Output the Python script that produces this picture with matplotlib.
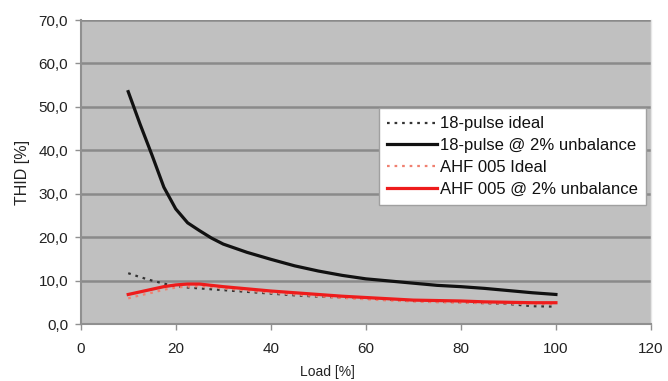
import matplotlib
matplotlib.use("Agg")
import matplotlib.pyplot as plt
from matplotlib.ticker import FuncFormatter, MultipleLocator

plt.rcParams['font.family'] = ['Liberation Sans', 'DejaVu Sans']

load = [10, 12.5, 15, 17.5, 20, 22.5, 25, 27.5, 30, 35, 40, 45, 50, 55, 60, 65, 70, 75, 80, 85, 90, 95, 100]

pulse18_ideal = [11.7, 10.8, 10.0, 9.3, 8.7, 8.4, 8.2, 8.0, 7.8, 7.4, 7.0, 6.6, 6.3, 6.1, 5.9, 5.6, 5.3, 5.2, 5.0, 4.8, 4.6, 4.1, 4.0]
pulse18_unbal = [53.5, 46.0, 38.9, 31.5, 26.5, 23.3, 21.5, 19.8, 18.4, 16.5, 14.9, 13.4, 12.2, 11.2, 10.4, 9.9, 9.4, 8.9, 8.6, 8.2, 7.7, 7.2, 6.8]
ahf_ideal = [5.9, 6.6, 7.2, 7.9, 8.4, 8.6, 8.7, 8.5, 8.2, 7.7, 7.2, 6.8, 6.4, 6.0, 5.7, 5.4, 5.2, 5.0, 4.9, 4.8, 4.7, 4.6, 4.6]
ahf_unbal = [6.8, 7.4, 8.0, 8.6, 9.0, 9.2, 9.2, 8.9, 8.6, 8.1, 7.6, 7.2, 6.8, 6.4, 6.1, 5.8, 5.5, 5.4, 5.3, 5.1, 5.0, 4.9, 4.9]

fig = plt.figure(figsize=(6.68, 3.81), dpi=100)
ax = fig.add_axes([0.1208, 0.1496, 0.8537, 0.7979])
ax.set_facecolor('#c0c0c0')

ax.plot(load, pulse18_ideal, color='#333333', lw=1.6, ls=(0, (1.2, 2.2)), label='18-pulse ideal', zorder=3)
ax.plot(load, pulse18_unbal, color='#111111', lw=2.3, label='18-pulse @ 2% unbalance', zorder=4,
        solid_joinstyle='round')
ax.plot(load, ahf_ideal, color='#f08070', lw=1.6, ls=(0, (1.2, 2.2)), label='AHF 005 Ideal', zorder=3)
ax.plot(load, ahf_unbal, color='#ee1c1c', lw=2.3, label='AHF 005 @ 2% unbalance', zorder=4,
        solid_joinstyle='round')

ax.set_xlim(0, 120)
ax.set_ylim(0, 70)
ax.xaxis.set_major_locator(MultipleLocator(20))
ax.yaxis.set_major_locator(MultipleLocator(10))
ax.yaxis.set_major_formatter(FuncFormatter(lambda v, p: f"{v:.1f}".replace('.', ',')))

ax.grid(axis='y', color='#8a8a8a', lw=1.8, zorder=1)
ax.set_axisbelow(True)

ax.spines['top'].set_visible(False)
ax.spines['right'].set_color('#e6e6e6')
ax.spines['right'].set_linewidth(1.0)
for s in ['left', 'bottom']:
    ax.spines[s].set_color('#909090')
    ax.spines[s].set_linewidth(1.5)

ax.tick_params(axis='both', direction='out', length=4, width=1, color='#909090',
               labelsize=11, labelcolor='#222222')
ax.tick_params(axis='x', pad=9)
ax.tick_params(axis='y', pad=5)

ax.set_xlabel('Load [%]', fontsize=10, color='#222222', labelpad=2)
ax.xaxis.set_label_coords(0.432, -0.135)
ax.set_ylabel('THID [%]', fontsize=11.5, color='#222222', labelpad=6)

leg = ax.legend(loc='upper left', bbox_to_anchor=(0.523, 0.71), fontsize=12,
                frameon=True, fancybox=False, framealpha=1.0, handlelength=3.0,
                handletextpad=0.15, borderpad=0.5, labelspacing=0.4, borderaxespad=0)
leg.get_frame().set_facecolor('white')
leg.get_frame().set_edgecolor('#a0a0a0')
leg.get_frame().set_linewidth(1.0)
for t in leg.get_texts():
    t.set_color('#111111')

fig.savefig('out.png', dpi=100)
